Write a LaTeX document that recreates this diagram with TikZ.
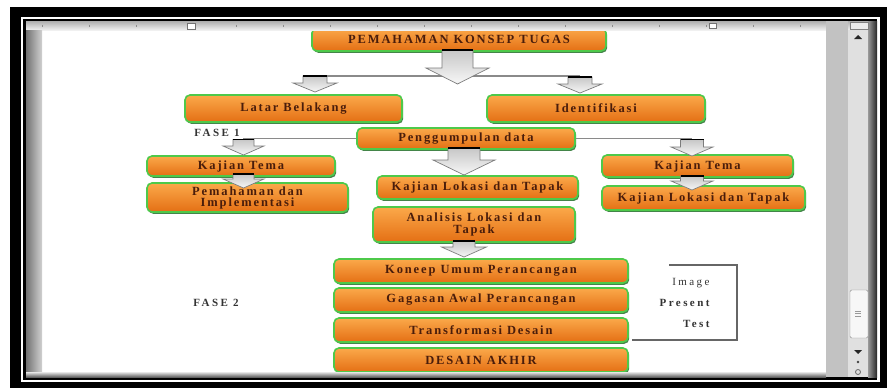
\documentclass[tikz,border=0pt]{standalone}
\usepackage{fontspec}
\setmainfont{Liberation Serif}
\newfontfamily\boxfont[LetterSpace=15]{Liberation Serif}
\newfontfamily\labfont[LetterSpace=22]{Liberation Serif}
\usetikzlibrary{shadows}
\definecolor{orTop}{HTML}{FBA94A}
\definecolor{orBot}{HTML}{E46F14}
\definecolor{grEdge}{HTML}{4EC94A}
\definecolor{grShadow}{HTML}{23702A}
\definecolor{txtBrown}{HTML}{4A1D0B}
\definecolor{arrEdge}{HTML}{7C7C7C}
\definecolor{lineGray}{HTML}{8A8A8A}
\newcommand\barrow[7]{%
  \path[arrowfill] (#2-#6,#3) -- (#2+#6,#3) -- (#2+#6,#4) -- (#2+#7,#4) -- (#2,#5) -- (#2-#7,#4) -- (#2-#6,#4) -- cycle;
  \draw[line width=1.8pt,black] (#2-#6,#3) -- (#2+#6,#3);
  \coordinate (#1) at (#2,#3);
}
\begin{document}
\begin{tikzpicture}[x=1pt,y=-1pt,
  obox/.style={rounded corners=5pt, top color=orTop, bottom color=orBot, draw=grEdge, line width=1.6pt,
    drop shadow={shadow xshift=1.2pt, shadow yshift=-1.8pt, fill=grShadow, opacity=0.85},
    font=\boxfont\bfseries\fontsize{12.5}{13}\selectfont, text=txtBrown, align=center, inner sep=1pt},
  arrowfill/.style={top color=black!22, bottom color=black!3, draw=arrEdge, line width=0.7pt},
  hline/.style={draw=lineGray, line width=1.4pt},
  lab/.style={font=\labfont\bfseries\fontsize{11}{12}\selectfont, text=black!80},
]
\useasboundingbox (0,0) rectangle (887,388);
\fill[white] (0,0) rectangle (887,388);
% window frame
\fill[black] (10,7) rectangle (887,388);
\fill[white] (21,17) rectangle (880,382);
\fill[black] (23,19) rectangle (877,380);
\fill[white] (26,21) rectangle (870,377);

% top connectors
\coordinate (jl) at (315,76);
\coordinate (jr) at (580,76);
\draw[hline] (jl) -- (jr);

% boxes
\node[obox, minimum width=294, minimum height=23] (pem) at (459,39.5) {PEMAHAMAN KONSEP TUGAS};
\node[obox, minimum width=217, minimum height=27] (latar) at (293.5,108.5) {Latar Belakang};
\node[obox, minimum width=218, minimum height=27] (ident) at (596,108.5) {Identifikasi};
\node[obox, minimum width=218, minimum height=21] (peng) at (466,138.5) {Penggumpulan data};
\node[obox, minimum width=188, minimum height=20] (kt1) at (241,166) {Kajian Tema};
\node[obox, minimum width=201, minimum height=29, font=\boxfont\bfseries\fontsize{12.5}{11}\selectfont] (pi) at (247.5,197.5) {Pemahaman dan\\Implementasi};
\node[obox, minimum width=201, minimum height=23] (kl) at (477.5,187.5) {Kajian Lokasi dan Tapak};
\node[obox, minimum width=202, minimum height=35, font=\boxfont\bfseries\fontsize{12.5}{12.5}\selectfont] (an) at (474,224.5) {Analisis Lokasi dan\\Tapak};
\node[obox, minimum width=191, minimum height=22] (kt2) at (697.5,166) {Kajian Tema};
\node[obox, minimum width=203, minimum height=24] (kl2) at (703.5,198) {Kajian Lokasi dan Tapak};
\node[obox, minimum width=294, minimum height=24] (kon) at (481,271) {Koneep Umum Perancangan};
\node[obox, minimum width=294, minimum height=24] (gag) at (481,300) {Gagasan Awal Perancangan};
\node[obox, minimum width=294, minimum height=24] (tra) at (481,330) {Transformasi Desain};
\node[obox, minimum width=294, minimum height=24] (des) at (481,360) {DESAIN AKHIR};

% side connectors from Penggumpulan data
\coordinate (fl) at (243,138.5);
\coordinate (fr) at (692,138.5);
\draw[hline] (peng.west) -- (fl);
\draw[hline] (peng.east) -- (fr);

% block arrows
\barrow{a0}{457.5}{50}{68}{84}{15.5}{31.5}
\barrow{a1}{315}{76}{83}{92}{12}{22}
\barrow{a2}{580}{77}{84}{93}{12}{22}
\barrow{a3}{243.5}{139.5}{146}{155}{10.5}{20.5}
\barrow{a4}{243.5}{174}{179}{188}{10.5}{20.5}
\barrow{a5}{464}{148}{160}{175}{16}{31}
\barrow{a6}{464}{241}{247}{257}{11}{22.5}
\barrow{a7}{692}{139.5}{147}{156}{11.5}{21}
\barrow{a8}{692}{176}{181}{190}{11.5}{21}

% labels
\node[lab] (f1) at (217,133) {FASE 1};
\node[lab] (f2) at (216,303) {FASE 2};
\node[lab, anchor=east, font=\labfont\fontsize{11}{12}\selectfont] (img) at (713,283) {Image};
\node[lab, anchor=east] (pre) at (713,303) {Present};
\node[lab, anchor=east] (tst) at (713,324) {Test};

% bracket
\coordinate (b1) at (669,265);
\coordinate (b2) at (737,265);
\coordinate (b3) at (737,340);
\coordinate (b4) at (632,340);
\draw[black!25, line width=1.6pt, xshift=1pt, yshift=-1pt] (b1) -- (b2) -- (b3) -- (b4);
\draw[black!60, line width=1.4pt] (b1) -- (b2) -- (b3) -- (b4);

% ruler
\shade[top color=black!32, bottom color=black!6] (26,21) rectangle (870,30);
\foreach \x in {42,89,136,236,283,330,377,424,471,518,565,612,659,706,753,800}
  \draw[black!45, line width=0.6pt] (\x,24.5) -- (\x,27);
\draw[black!55, fill=white] (187,23) rectangle (195,29);
\draw[black!55, fill=white] (709,23) rectangle (716,28);
% left gutter
\shade[left color=black!55, right color=black!18] (26,30) rectangle (42,372);
% bottom strip
\shade[top color=black!10, bottom color=black!62] (26,372) rectangle (826,377);
% scrollbar
\fill[black!24] (826,21) rectangle (848,377);
\fill[black!12] (848,30) rectangle (869,377);
\shade[left color=black!40, right color=black!85] (868,21) rectangle (877,377);
\draw[black!50, fill=black!8] (850,22) rectangle (868,29);
\fill[black!85] (854,39) -- (862,39) -- (858,35) -- cycle;
\draw[black!45, fill=black!3, rounded corners=1.5pt] (850,290) rectangle (868,338);
\foreach \y in {311,313.5,316} \draw[black!40, line width=0.6pt] (855,\y) -- (861,\y);
\fill[black!85] (854,350) -- (862,350) -- (858,354) -- cycle;
\fill[black!75] (858,362) circle (1.3);
\draw[black!60, line width=0.8pt] (858,372) circle (2.5);
\end{tikzpicture}
\end{document}
